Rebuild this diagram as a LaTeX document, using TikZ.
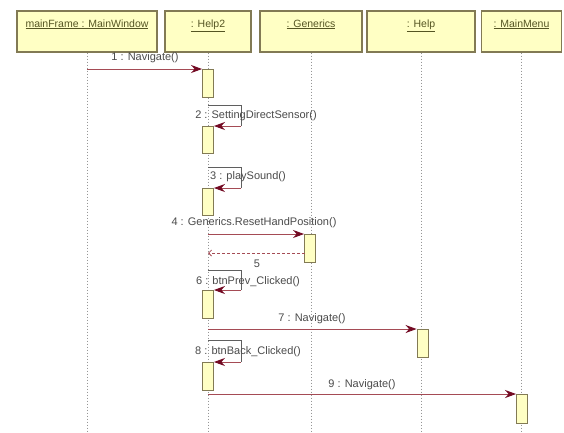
\documentclass[tikz,border=0pt]{standalone}
\usepackage{fontspec}
\setmainfont{Liberation Sans}
\usetikzlibrary{arrows.meta}
\definecolor{boxfill}{RGB}{255,255,196}
\definecolor{boxdraw}{RGB}{130,122,84}
\definecolor{hdrtxt}{RGB}{85,85,35}
\definecolor{msgred}{RGB}{165,75,85}
\definecolor{headred}{RGB}{115,10,35}
\definecolor{loopc}{RGB}{95,95,95}
\definecolor{txtc}{RGB}{75,75,75}
\definecolor{lifec}{RGB}{150,150,150}
\begin{document}
\begin{tikzpicture}[x=1pt,y=-1pt,
  hdr/.style={draw=boxdraw, line width=1.3pt, fill=boxfill, minimum height=41pt, inner sep=0pt},
  hdrlbl/.style={text=hdrtxt, font=\fontsize{10.5}{12}\selectfont, inner sep=0pt, anchor=north, yshift=-9pt},
  act/.style={draw=boxdraw, line width=0.9pt, fill=boxfill, minimum width=11pt, inner sep=0pt, anchor=north},
  lifeline/.style={draw=lifec, line width=0.8pt, dash pattern=on 1.5pt off 1.5pt},
  msg/.style={draw=msgred, line width=0.9pt, -{Stealth[length=11pt,width=8pt,fill=headred,color=headred]}},
  loopline/.style={draw=loopc, line width=0.8pt},
  ret/.style={draw=msgred, line width=0.8pt, dash pattern=on 3pt off 2pt, -{Straight Barb[length=3pt,width=6pt]}},
  lbl/.style={text=txtc, font=\fontsize{11}{13}\selectfont, inner sep=0pt}
]
\useasboundingbox (0,0) rectangle (564,432);
\fill[white] (0,0) rectangle (564,432);

% headers
\node[hdr, minimum width=140pt, label={[hdrlbl, label distance=0pt]north:\underline{mainFrame : MainWindow}}] (h1) at (87,31.5) {};
\node[hdr, minimum width=86pt, label={[hdrlbl, label distance=0pt]north:\underline{: Help2}}] (h2) at (208,31.5) {};
\node[hdr, minimum width=102pt, label={[hdrlbl, label distance=0pt]north:\underline{: Generics}}] (h3) at (311,31.5) {};
\node[hdr, minimum width=108pt, label={[hdrlbl, label distance=0pt]north:\underline{: Help}}] (h4) at (421,31.5) {};
\node[hdr, minimum width=80pt, label={[hdrlbl, label distance=0pt]north:\underline{: MainMenu}}] (h5) at (521.5,31.5) {};

% lifeline ends
\coordinate (e1) at (87,432);
\coordinate (e2) at (208,432);
\coordinate (e3) at (311,432);
\coordinate (e4) at (421,432);
\coordinate (e5) at (521.5,432);
\draw[lifeline] (h1.south) -- (e1);
\draw[lifeline] (h2.south) -- (e2);
\draw[lifeline] (h3.south) -- (e3);
\draw[lifeline] (h4.south) -- (e4);
\draw[lifeline] (h5.south) -- (e5);

% activations
\node[act, minimum height=28pt] (a1) at (208,69) {};
\node[act, minimum height=27pt] (a2) at (208,126) {};
\node[act, minimum height=27pt] (a3) at (208,188) {};
\node[act, minimum height=28pt] (g1) at (310,234) {};
\node[act, minimum height=28pt] (a4) at (208,290) {};
\node[act, minimum height=28pt] (p1) at (422.5,329) {};
\node[act, minimum height=28pt] (a5) at (208,362) {};
\node[act, minimum height=29pt] (m1) at (522,394) {};

% 1
\coordinate (s1) at (87,69);
\draw[msg] (s1) -- (a1.north west);
\node[lbl] (t1) at (145,58) {1 : Navigate()};

% 2 self
\coordinate (c2) at (208,105);
\coordinate (c2r) at (241,105);
\coordinate (c2b) at (241,126);
\draw[loopline] (c2) -- (c2r) -- (c2b);
\draw[msg] (c2b) -- (a2.north east);
\node[lbl] (t2) at (256,116) {2 : SettingDirectSensor()};

% 3 self
\coordinate (c3) at (208,167);
\coordinate (c3r) at (241,167);
\coordinate (c3b) at (241,188);
\draw[loopline] (c3) -- (c3r) -- (c3b);
\draw[msg] (c3b) -- (a3.north east);
\node[lbl] (t3) at (248,177) {3 : playSound()};

% 4
\coordinate (s4) at (208,234);
\draw[msg] (s4) -- (g1.north west);
\node[lbl] (t4) at (254,223) {4 : Generics.ResetHandPosition()};

% 5 return
\coordinate (s5) at (304.5,253);
\coordinate (d5) at (208,253);
\draw[ret] (s5) -- (d5);
\node[lbl] (t5) at (257,264) {5};

% 6 self
\coordinate (c6) at (208,270);
\coordinate (c6r) at (241,270);
\coordinate (c6b) at (241,290);
\draw[loopline] (c6) -- (c6r) -- (c6b);
\draw[msg] (c6b) -- (a4.north east);
\node[lbl] (t6) at (248,282) {6 : btnPrev\_Clicked()};

% 7
\coordinate (s7) at (208,329);
\draw[msg] (s7) -- (p1.north west);
\node[lbl] (t7) at (312,319) {7 : Navigate()};

% 8 self
\coordinate (c8) at (208,340);
\coordinate (c8r) at (241,340);
\coordinate (c8b) at (241,362);
\draw[loopline] (c8) -- (c8r) -- (c8b);
\draw[msg] (c8b) -- (a5.north east);
\node[lbl] (t8) at (248,352) {8 : btnBack\_Clicked()};

% 9
\coordinate (s9) at (208,394);
\draw[msg] (s9) -- (m1.north west);
\node[lbl] (t9) at (362,385) {9 : Navigate()};
\end{tikzpicture}
\end{document}
